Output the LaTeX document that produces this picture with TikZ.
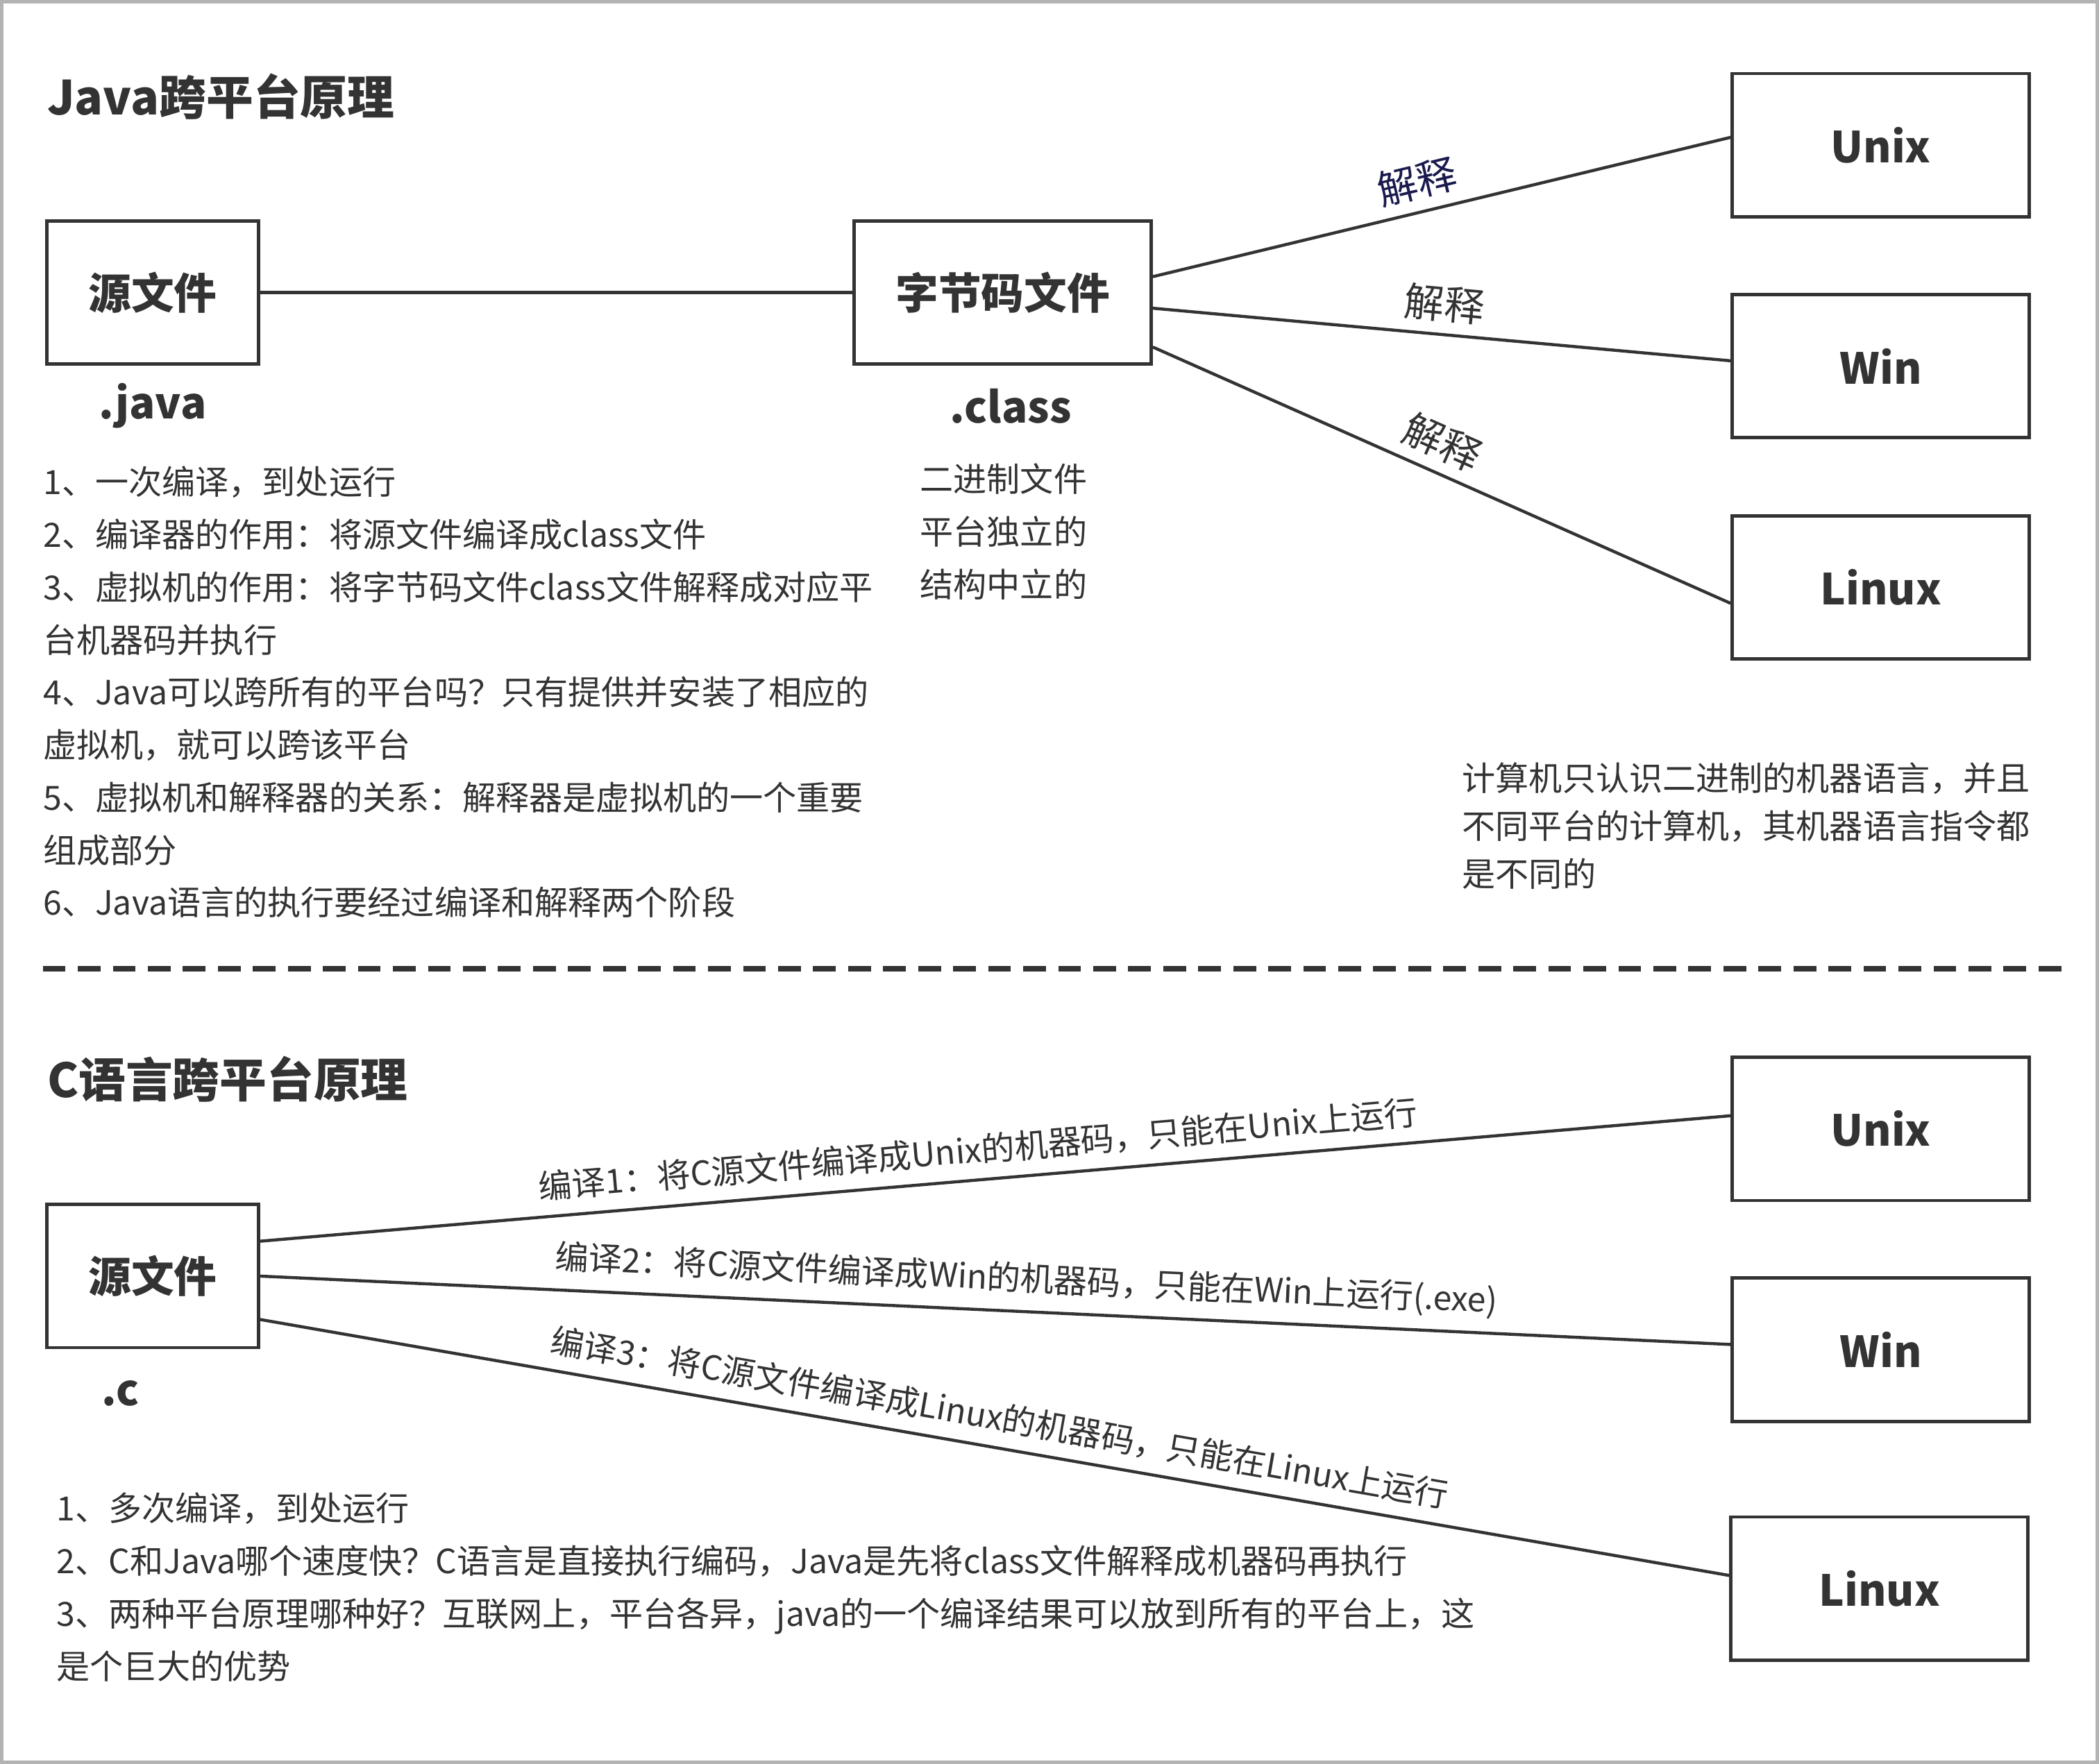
\documentclass[tikz,border=0pt]{standalone}
\usepackage{fontspec}
\setmainfont{Noto Sans CJK SC}
\usetikzlibrary{positioning}

\definecolor{ink}{HTML}{333333}
\definecolor{navy}{HTML}{1A1A4E}
\definecolor{framegray}{HTML}{B3B3B3}

\newcommand\notefont{\fontsize{14.2pt}{22.36pt}\selectfont}
\newcommand\explainfont{\fontsize{17pt}{20pt}\selectfont}
\newcommand\headfont{\fontsize{18.2pt}{22pt}\selectfont\bfseries}
\newcommand\titlefont{\fontsize{20pt}{24pt}\selectfont\bfseries}

\tikzset{
    box/.style={draw=ink, line width=1.4pt, minimum height=2.14cm, inner sep=0pt, font=\headfont, text=ink},
    srcbox/.style={box, minimum width=3.16cm},
    osbox/.style={box, minimum width=4.44cm},
    link/.style={draw=ink, line width=1.3pt},
    explain/.style={font=\explainfont, text=ink, sloped, anchor=south, inner sep=4.5pt},
    compiletxt/.style={font=\notefont, text=ink, sloped, anchor=south, inner sep=5.4pt},
    % multi-line nodes: base is the last line
    notes/.style={font=\notefont, text=ink, align=left, anchor=base west, inner sep=0pt},
    heading/.style={font=\titlefont, text=ink, anchor=base west, inner sep=0pt},
    suffix/.style={font=\headfont, text=ink, anchor=base, inner sep=0pt},
}

\begin{document}
\begin{tikzpicture}[x=0.02cm, y=-0.02cm]
    \useasboundingbox (0,0) rectangle (1568,1318);
    \draw[framegray, line width=0.05cm] (1.25,1.25) rectangle (1566.75,1316.75);

    % Java part
    \node[heading] (jtitle) at (35,86) {Java跨平台原理};
    \node[srcbox] (jsrc) at (114,218.5) {源文件};
    \node[osbox] (bc) at (749,218.5) {字节码文件};
    \node[osbox] (unix) at (1405,108.5) {Unix};
    \node[osbox] (win) at (1405,273.5) {Win};
    \node[osbox] (linux) at (1405,439) {Linux};
    \node[suffix] (jext) at (114,313) {.java};
    \node[suffix] (cext) at (755,316) {.class};

    \draw[link] (jsrc.east) -- (bc.west);
    \draw[link] (bc.6) -- node[explain, pos=0.47, text=navy] {解释} (unix.177);
    \draw[link] (bc.-6) -- node[explain, pos=0.5] {解释} (win.178);
    \draw[link] (bc.-20) -- node[explain, pos=0.48] {解释} (linux.186);

    \node[notes] (jnotes) at (32,683.9) {1、一次编译，到处运行\\
        2、编译器的作用：将源文件编译成class文件\\
        3、虚拟机的作用：将字节码文件class文件解释成对应平\\
        台机器码并执行\\
        4、Java可以跨所有的平台吗？只有提供并安装了相应的\\
        虚拟机，就可以跨该平台\\
        5、虚拟机和解释器的关系：解释器是虚拟机的一个重要\\
        组成部分\\
        6、Java语言的执行要经过编译和解释两个阶段};
    \node[notes] (bcnotes) at (687,446) {二进制文件\\平台独立的\\结构中立的};
    \node[notes, font=\fontsize{14.2pt}{20.4pt}\selectfont] (mnotes) at (1092,662.5) {计算机只认识二进制的机器语言，并且\\
        不同平台的计算机，其机器语言指令都\\
        是不同的};

    % separator
    \draw[ink, line width=2.3pt, dash pattern=on 0.34cm off 0.1832cm] (32,724) -- (1540,724);

    % C part
    \node[heading] (ctitle) at (35,820) {C语言跨平台原理};
    \node[srcbox] (csrc) at (114,953.5) {源文件};
    \node[osbox] (unix2) at (1405,843.5) {Unix};
    \node[osbox] (win2) at (1405,1008.5) {Win};
    \node[osbox] (linux2) at (1404,1187) {Linux};
    \node[suffix] (cfile) at (90,1050) {.c};

    \draw[link] (csrc.18) -- node[compiletxt, pos=0.49] {编译1：将C源文件编译成Unix的机器码，只能在Unix上运行} (unix2.175);
    \draw[link] (csrc.0) -- node[compiletxt, pos=0.52] {编译2：将C源文件编译成Win的机器码，只能在Win上运行(.exe)} (win2.178);
    \draw[link] (csrc.-22) -- node[compiletxt, pos=0.5] {编译3：将C源文件编译成Linux的机器码，只能在Linux上运行} (linux2.175);

    \node[notes] (cnotes) at (42,1254.4) {1、多次编译，到处运行\\
        2、C和Java哪个速度快？C语言是直接执行编码，Java是先将class文件解释成机器码再执行\\
        3、两种平台原理哪种好？互联网上，平台各异，java的一个编译结果可以放到所有的平台上，这\\
        是个巨大的优势};
\end{tikzpicture}
\end{document}
